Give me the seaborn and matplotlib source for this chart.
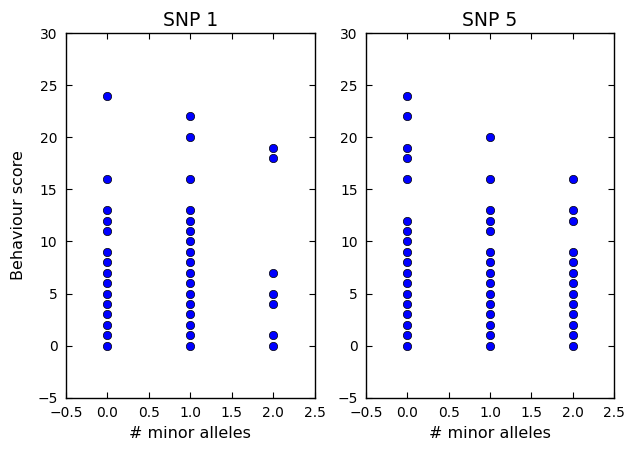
import pandas as pd
import numpy as np
import matplotlib
matplotlib.use("Agg")
import matplotlib.pyplot as plt
import seaborn as sns

sns.set_style("white")
plt.rcParams['font.family'] = ['DejaVu Sans']
plt.rcParams['font.size'] = 12
plt.rcParams['text.color'] = 'black'
plt.rcParams['axes.labelcolor'] = 'black'
plt.rcParams['xtick.color'] = 'black'
plt.rcParams['ytick.color'] = 'black'
plt.rcParams['xtick.direction'] = 'in'
plt.rcParams['ytick.direction'] = 'in'
plt.rcParams['xtick.top'] = True
plt.rcParams['ytick.right'] = True
plt.rcParams['xtick.bottom'] = True
plt.rcParams['ytick.left'] = True
plt.rcParams['xtick.major.size'] = 4
plt.rcParams['ytick.major.size'] = 4
plt.rcParams['axes.edgecolor'] = 'black'
plt.rcParams['axes.linewidth'] = 1.0

# behaviour scores per genotype (distinct values)
snp1_0 = [24, 16, 13, 12, 11, 9, 8, 7, 6, 5, 4, 3, 2, 1, 0]
snp1_1 = [22, 20, 16, 13, 12, 11, 10, 9, 8, 7, 6, 5, 4, 3, 2, 1, 0]
snp1_2 = [19, 18, 7, 5, 4, 1, 0]

snp5_0 = [24, 22, 19, 18, 16, 12, 11, 10, 9, 8, 7, 6, 5, 4, 3, 2, 1, 0]
snp5_1 = [20, 16, 13, 12, 11, 9, 8, 7, 6, 5, 4, 3, 2, 1, 0]
snp5_2 = [16, 13, 12, 9, 8, 7, 6, 5, 4, 3, 2, 1, 0]

def to_frame(groups, name):
    rows = []
    for alleles, scores in enumerate(groups):
        for s in scores:
            rows.append((name, alleles, s))
    return pd.DataFrame(rows, columns=['snp', 'minor_alleles', 'score'])

data = pd.concat([to_frame([snp1_0, snp1_1, snp1_2], 'SNP 1'),
                  to_frame([snp5_0, snp5_1, snp5_2], 'SNP 5')])

fig = plt.figure(figsize=(6.27, 4.49), dpi=100)
ax1 = fig.add_axes([0.105, 0.114, 0.397, 0.8125])
ax2 = fig.add_axes([0.584, 0.114, 0.395, 0.8125])

for ax, name in [(ax1, 'SNP 1'), (ax2, 'SNP 5')]:
    sub = data[data.snp == name]
    sns.scatterplot(x='minor_alleles', y='score', data=sub, ax=ax, color='blue',
                    edgecolor='black', linewidth=0.5, s=36, zorder=3)
    ax.set_xlim(-0.5, 2.5)
    ax.set_ylim(-5, 30)
    ax.set_xticks(np.arange(-0.5, 2.51, 0.5))
    ax.set_yticks(np.arange(-5, 31, 5))
    ax.set_title(name, fontsize=13.5, pad=5)
    ax.set_xlabel("# minor alleles", fontsize=11.5)
    ax.set_ylabel("")
    ax.tick_params(labelsize=10, pad=6)

ax1.set_ylabel("Behaviour score", fontsize=11.5, labelpad=8)

plt.savefig("out.png", dpi=100, facecolor='white')
